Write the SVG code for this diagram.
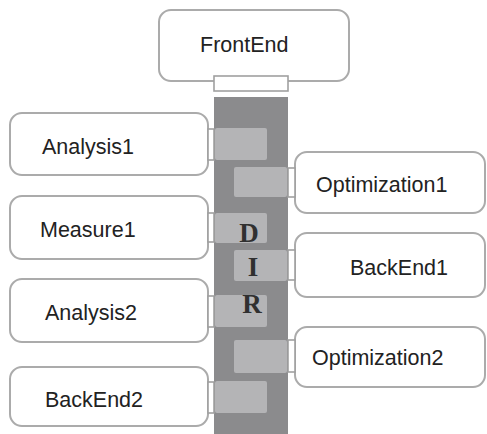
<svg xmlns="http://www.w3.org/2000/svg" width="487" height="434" viewBox="0 0 487 434">
  <style>
    .box { fill: #ffffff; stroke: #ababab; stroke-width: 2; }
    .port { fill: #ffffff; stroke: #a0a0a0; stroke-width: 1.6; }
    .bus { fill: #8b8b8d; }
    .slot { fill: #b4b4b6; }
    .label { font-family: "Liberation Sans", Arial, sans-serif; font-size: 21.5px; fill: #222222; }
    .tag { font-family: "Liberation Serif", "Times New Roman", serif; font-weight: bold; font-size: 27px; fill: #303030; text-anchor: middle; }
  </style>

  <!-- shared bus with its slots -->
  <g id="connectors">
    <rect class="bus" x="214" y="97" width="74" height="337"/>
    <rect class="slot" x="215" y="128" width="52" height="32" rx="2"/>
    <rect class="slot" x="234" y="167" width="53" height="30" rx="2"/>
    <rect class="slot" x="215" y="213" width="52" height="30" rx="2"/>
    <rect class="slot" x="234" y="250" width="53" height="31" rx="2"/>
    <rect class="slot" x="215" y="295" width="52" height="32" rx="2"/>
    <rect class="slot" x="234" y="340" width="53" height="33" rx="2"/>
    <rect class="slot" x="215" y="381" width="52" height="32" rx="2"/>
    <text class="tag" x="249" y="242">D</text>
    <text class="tag" x="253" y="276">I</text>
    <text class="tag" x="252" y="313">R</text>
  </g>

  <g id="frontend">
    <rect class="box" x="159" y="10" width="190" height="71" rx="12"/>
    <rect class="port" x="214" y="76" width="74" height="15"/>
    <text class="label" x="200" y="52">FrontEnd</text>
  </g>

  <g id="analysis1">
    <rect class="box" x="10" y="113" width="198" height="62" rx="12"/>
    <rect class="port" x="208" y="129" width="6" height="31"/>
    <text class="label" x="42" y="154">Analysis1</text>
  </g>

  <g id="optimization1">
    <rect class="box" x="295" y="152" width="190" height="61" rx="12"/>
    <rect class="port" x="288" y="168" width="7" height="29"/>
    <text class="label" x="316" y="192">Optimization1</text>
  </g>

  <g id="measure1">
    <rect class="box" x="10" y="196" width="198" height="63" rx="12"/>
    <rect class="port" x="208" y="213" width="6" height="29"/>
    <text class="label" x="40" y="237">Measure1</text>
  </g>

  <g id="backend1">
    <rect class="box" x="295" y="233" width="190" height="64" rx="12"/>
    <rect class="port" x="288" y="250" width="7" height="30"/>
    <text class="label" x="350" y="275">BackEnd1</text>
  </g>

  <g id="analysis2">
    <rect class="box" x="10" y="279" width="198" height="63" rx="12"/>
    <rect class="port" x="208" y="296" width="6" height="31"/>
    <text class="label" x="45" y="320">Analysis2</text>
  </g>

  <g id="optimization2">
    <rect class="box" x="295" y="327" width="190" height="60" rx="12"/>
    <rect class="port" x="288" y="340" width="7" height="32"/>
    <text class="label" x="312" y="365">Optimization2</text>
  </g>

  <g id="backend2">
    <rect class="box" x="10" y="367" width="198" height="59" rx="12"/>
    <rect class="port" x="208" y="382" width="6" height="31"/>
    <text class="label" x="45" y="407">BackEnd2</text>
  </g>
</svg>
